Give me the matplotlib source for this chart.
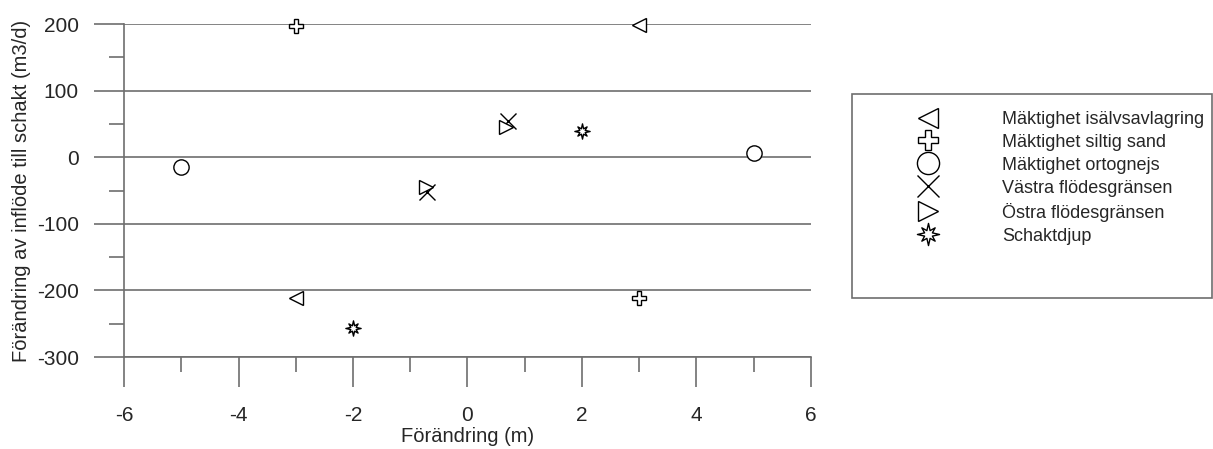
import numpy as np
import matplotlib
matplotlib.use('Agg')
import matplotlib.pyplot as plt
from matplotlib.path import Path
from matplotlib.patches import Rectangle
from matplotlib.ticker import MultipleLocator

plt.rcParams['font.family'] = ['Liberation Sans', 'DejaVu Sans']
plt.rcParams['axes.unicode_minus'] = False

## data
labels = ['Mäktighet isälvsavlagring', 'Mäktighet siltig sand', 'Mäktighet ortognejs',
          'Västra flödesgränsen', 'Östra flödesgränsen', 'Schaktdjup']
x_isalv = [3, -3]
y_isalv = [198, -211]
x_silt = [-3, 3]
y_silt = [197, -211]
x_orto = [-5, 5]
y_orto = [-14, 6]
x_vastra = [0.7, -0.7]
y_vastra = [55, -53]
x_ostra = [0.68, -0.72]
y_ostra = [45, -44]
x_schakt = [2, -2]
y_schakt = [40, -257]

x_ticks = [-6, -4, -2, 0, 2, 4, 6]
y_ticks = [-300, -200, -100, 0, 100, 200]

## star-like marker for Schaktdjup
ang = np.arange(16) * np.pi / 8 + np.pi / 2
rad = np.where(np.arange(16) % 2 == 0, 1.0, 0.38)
rad[[2, 6, 10, 14]] = 0.85
star_verts = np.column_stack([rad * np.cos(ang), rad * np.sin(ang)])
star_verts = np.vstack([star_verts, star_verts[0]])
star_marker = Path(star_verts, closed=True)

W, H = 1213, 449
fig = plt.figure(figsize=(W / 100, H / 100), dpi=100)
ax = fig.add_axes([124 / W, (H - 357) / H, (811 - 124) / W, (357 - 24) / H])

grey = '#6e6e6e'
txt = '#262626'

series = [
    (x_isalv, y_isalv, '<', 10),
    (x_silt, y_silt, 'P', 10),
    (x_orto, y_orto, 'o', 11),
    (x_vastra, y_vastra, 'x', 11),
    (x_ostra, y_ostra, '>', 10),
    (x_schakt, y_schakt, star_marker, 11),
]
handles = []
for (xs, ys, m, ms), lab in zip(series, labels):
    h, = ax.plot(xs, ys, linestyle='none', marker=m, markersize=ms,
                 markerfacecolor='white', markeredgecolor='black',
                 markeredgewidth=1.0, label=lab, zorder=3, clip_on=False)
    handles.append(h)

ax.set_xlim(-6, 6)
ax.set_ylim(-300, 200)
ax.set_xticks(x_ticks)
ax.set_yticks(y_ticks)
ax.xaxis.set_minor_locator(MultipleLocator(1))
ax.yaxis.set_minor_locator(MultipleLocator(50))
ax.grid(axis='y', which='major', color=grey, linewidth=1.2, zorder=1)

for s in ['top', 'right']:
    ax.spines[s].set_visible(False)
for s in ['left', 'bottom']:
    ax.spines[s].set_color(grey)
    ax.spines[s].set_linewidth(1.2)

ax.tick_params(which='major', direction='out', length=21.6, width=1.2, color=grey,
               labelsize=15, labelcolor=txt)
ax.tick_params(which='minor', direction='out', length=10.8, width=1.2, color=grey)
ax.tick_params(axis='y', which='major', pad=11)
ax.tick_params(axis='x', which='major', pad=14)

ax.set_xlabel('Förändring (m)', fontsize=14.5, color=txt, labelpad=1)
ax.set_ylabel('Förändring av inflöde till schakt (m3/d)', fontsize=14.5, color=txt, labelpad=4)

## legend frame drawn separately
fig.patches.append(Rectangle((852 / W, (H - 298) / H), (1212 - 852) / W, (298 - 94) / H,
                             transform=fig.transFigure, facecolor='white',
                             edgecolor=grey, linewidth=1.2))
fig.legend(handles=handles, loc='upper left', bbox_to_anchor=(858 / W, 1 - 100 / H),
           frameon=False, fontsize=13, markerscale=1.45, handlelength=6.5,
           handletextpad=0.9, borderpad=0.6, borderaxespad=0, labelspacing=0.33,
           labelcolor=txt)

fig.savefig('out.png', dpi=100)
